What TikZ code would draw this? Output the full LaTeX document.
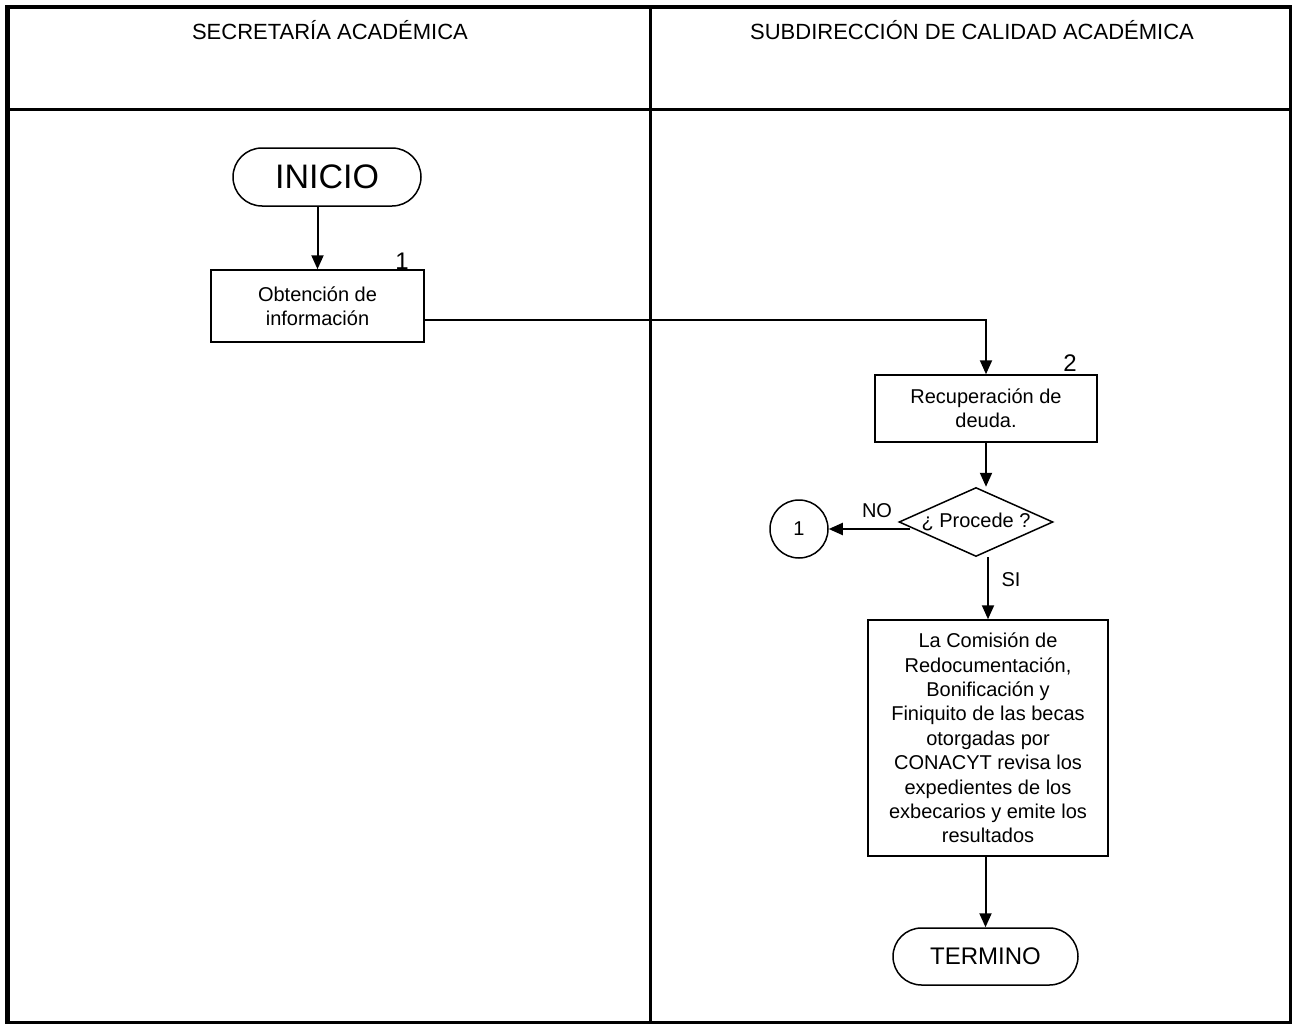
\documentclass[tikz,border=0pt]{standalone}
\usepackage{fontspec}
\setmainfont{Liberation Sans}
\usetikzlibrary{arrows.meta,shapes.misc,shapes.geometric,calc}
\begin{document}
\begin{tikzpicture}[x=1pt,y=-1pt,
  frame/.style={line width=3pt},
  procbox/.style={draw,line width=1.5pt,align=center,inner sep=0pt,
    font=\fontsize{20}{24.4}\selectfont},
  terminal/.style={draw,rounded rectangle,line width=1.5pt,inner sep=0pt},
  decision/.style={draw,diamond,aspect=2.23,line width=1.5pt,inner sep=0pt,
    minimum width=154pt,minimum height=69pt,font=\fontsize{20}{24}\selectfont},
  connector/.style={draw,circle,line width=1.5pt,minimum size=58pt,inner sep=0pt,
    font=\fontsize{20}{24}\selectfont},
  steplabel/.style={font=\fontsize{24}{28}\selectfont,inner sep=0pt},
  branchlabel/.style={font=\fontsize{20}{24}\selectfont,inner sep=0pt},
  header/.style={font=\fontsize{22}{26}\selectfont,inner sep=0pt},
  flow/.style={line width=2pt,-{Triangle[length=14pt,width=12pt]}}]

\useasboundingbox (0,0) rectangle (1294,1025);
\fill[white] (0,0) rectangle (1294,1025);

% swimlane frame
\draw[frame] (7.5,1022) -- (1290,1022) -- (1290,7);
\draw[line width=5pt] (7.5,1023.5) -- (7.5,7);
\draw[line width=4.5pt] (5,7) -- (1291.5,7);
\draw[frame] (7.5,109.5) -- (1290,109.5);
\draw[frame] (650,7) -- (650,1022);

% lane headers
\node[header] (h1) at (330,30) {SECRETARÍA ACADÉMICA};
\node[header] (h2) at (972,30) {SUBDIRECCIÓN DE CALIDAD ACADÉMICA};

% left lane
\node[terminal,minimum width=188pt,minimum height=58pt,
  font=\fontsize{34}{38}\selectfont] (inicio) at (327,177) {INICIO};
\node[procbox,minimum width=213pt,minimum height=72pt] (box1) at (317.5,306)
  {Obtención de\\información};
\node[steplabel] (n1) at (402,261) {1};

% right lane
\node[procbox,minimum width=222pt,minimum height=67pt] (box2) at (986,408.5)
  {Recuperación de\\deuda.};
\node[steplabel] (n2) at (1070,363) {2};
\node[decision] (dia) at (976,522) {¿ Procede ?};
\node[connector] (c1) at (799,529) {1};
\node[branchlabel] (no) at (877,511) {NO};
\node[branchlabel] (si) at (1011,580) {SI};
\node[procbox,minimum width=240pt,minimum height=236pt] (box3) at (988,738)
  {La Comisión de\\Redocumentación,\\Bonificación y\\Finiquito de las becas\\otorgadas por\\CONACYT revisa los\\expedientes de los\\exbecarios y emite los\\resultados};
\node[terminal,minimum width=185pt,minimum height=57pt,
  font=\fontsize{24}{28}\selectfont] (termino) at (985.5,956.5) {TERMINO};

% connectors
\draw[flow] (inicio.south -| box1.north) -- (box1.north);
\draw[flow] ($(box1.east)+(0,14)$) -| (box2.north);
\draw[flow] (box2.south) -- (box2.south |- dia.north);
\draw[flow] ($(dia.west |- c1.east)+(12,0)$) -- (c1.east);
\draw[flow] (box3.north |- dia.south) -- (box3.north);
\draw[flow] (box3.south -| termino.north) -- (termino.north);
\end{tikzpicture}
\end{document}
